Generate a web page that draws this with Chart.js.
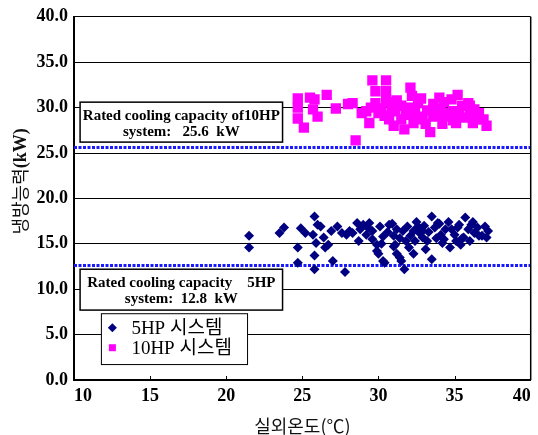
<!DOCTYPE html>
<html>
<head>
<meta charset="utf-8">
<script src="https://cdn.jsdelivr.net/npm/chart.js"></script>
<style>
  html, body { margin: 0; padding: 0; background: #fff; }
  #wrap { width: 538px; height: 435px; }
</style>
</head>
<body>
<div id="wrap"><canvas id="chart" width="538" height="435"></canvas></div>
<script>
// 실외온도(℃) vs 냉방능력(kW), 5HP / 10HP systems
const temp5HP = [21.5, 21.5, 23.5, 23.8, 24.7, 24.7, 24.9, 25.2, 25.8, 26.0, 25.7, 25.9, 25.8, 25.8,
  26.4, 26.5, 26.7, 27.0, 27.3, 27.6, 27.8, 28.1, 28.6, 29.0, 29.2, 29.6, 29.9, 30.0, 30.3, 29.9,
  30.7, 31.0, 31.1, 31.2, 31.5, 31.6, 31.7, 31.8, 30.4, 31.4, 32.3, 32.3, 32.6, 32.9, 33.5, 33.5,
  33.7, 34.1, 34.7, 34.8, 35.3, 35.7, 36.1, 36.3, 36.6, 37.1, 37.2, 34.3, 32.4, 35.6, 33.2, 33.9,
  35.1, 32.9, 28.7, 28.3,
  29.3, 29.6, 30.1, 30.3, 30.6, 30.9, 31.2, 31.4, 31.9, 32.1, 32.5, 32.7, 33.0, 33.3, 33.8, 34.0,
  34.4, 34.6, 35.0, 35.2, 35.5, 35.9, 36.2, 36.5, 36.8, 37.0, 30.2, 31.0, 32.0, 33.1, 34.2, 35.4,
  36.0, 29.4, 28.8, 27.9, 26.9, 26.2];
const cap5HP = [15.9, 14.6, 16.2, 16.8, 14.6, 12.9, 16.7, 16.2, 18.0, 17.1, 16.0, 15.1, 13.7, 12.2,
  15.7, 14.6, 14.9, 13.1, 16.9, 16.2, 11.9, 16.4, 17.3, 17.1, 16.0, 16.4, 14.9, 13.9, 13.1, 14.2,
  17.1, 15.9, 14.9, 13.9, 13.1, 16.4, 12.2, 15.3, 12.9, 13.5, 16.4, 13.9, 16.9, 15.7, 18.0, 13.3,
  16.8, 16.0, 14.6, 16.6, 17.1, 17.9, 17.1, 16.2, 15.9, 15.7, 16.4, 15.5, 15.3, 15.7, 15.3, 17.3,
  15.3, 16.4, 15.3, 16.2,
  16.8, 15.5, 16.9, 15.8, 16.3, 17.2, 16.6, 15.6, 16.9, 15.9, 17.4, 16.2, 17.0, 16.3, 15.6, 17.2,
  16.6, 17.4, 16.0, 16.8, 15.6, 16.6, 17.4, 16.8, 15.9, 16.9, 15.0, 14.7, 14.6, 14.4, 15.1, 14.9,
  15.3, 17.3, 16.6, 16.0, 16.4, 16.9];

const temp10HP = [24.7, 24.7, 24.7, 25.1, 25.5, 25.8, 25.7, 26.0, 26.6, 27.2, 28.0, 28.3, 28.9, 28.5,
  29.5, 29.4, 29.6, 29.8, 29.8, 30.0, 30.5, 30.5, 30.5, 30.4, 30.7, 30.8, 31.5, 31.5, 31.7, 32.1,
  32.2, 32.6, 32.4, 32.3, 32.9, 33.4, 33.6, 34.0, 34.1, 34.2, 34.8, 34.9, 35.1, 35.5, 35.9, 36.0,
  36.3, 36.4, 36.9, 37.1, 33.9, 34.5, 33.2, 31.1, 35.2,
  30.9, 31.2, 31.8, 32.0, 32.6, 32.8, 33.1, 33.6, 33.8, 34.3, 34.5, 34.9, 35.3, 35.6, 36.0, 36.6,
  36.2, 31.0, 30.2, 29.2];
const cap10HP = [31.0, 30.0, 28.8, 27.8, 31.1, 30.9, 29.8, 29.0, 31.4, 29.9, 30.4, 30.5, 29.4, 26.4,
  30.0, 28.3, 33.0, 31.8, 30.5, 29.4, 33.0, 31.8, 30.9, 29.1, 28.7, 30.6, 30.2, 28.7, 27.6, 32.2,
  31.3, 30.5, 29.4, 28.3, 28.7, 27.3, 30.4, 31.1, 29.8, 28.2, 30.9, 29.6, 28.3, 30.2, 30.5, 29.1,
  29.8, 28.7, 28.7, 28.0, 29.3, 29.0, 29.7, 29.7, 31.4,
  29.6, 30.8, 29.2, 30.0, 29.0, 31.0, 28.2, 29.0, 29.9, 30.6, 29.4, 28.6, 29.3, 28.9, 30.2, 29.4,
  28.3, 28.0, 29.9, 29.6];

const ratedCap = [25.6, 12.6];
const seriesNames = ["5HP 시스템", "10HP 시스템"];
const xTicks = [10, 15, 20, 25, 30, 35, 40];
const yTicks = [0, 5, 10, 15, 20, 25, 30, 35, 40];
const noteLines = [
  ["Rated cooling capacity of10HP", "system:   25.6  kW"],
  ["Rated cooling capacity    5HP", "system:  12.8  kW"]
];

// note / legend boxes in axis units: [xLeft, xRight, yTop, yBottom]
const noteBoxes = [[10.4, 23.7, 30.6, 26.2], [10.4, 23.7, 12.2, 7.7]];
const legendBox = [11.8, 21.4, 7.3, 1.7];

const serif = '"Liberation Serif", "Times New Roman", serif';
const korean = '"Noto Sans CJK KR", sans-serif';

const toPoints = (xs, ys) => xs.map((x, i) => ({ x: x, y: ys[i] }));
const flat = (v) => [{ x: xTicks[0], y: v }, { x: xTicks[xTicks.length - 1], y: v }];

const extras = {
  id: "extras",
  afterDraw(chart) {
    const { ctx, chartArea: a, scales: { x, y } } = chart;
    ctx.save();
    // right border + inner x ticks
    ctx.strokeStyle = "#000";
    ctx.lineWidth = 1.5;
    ctx.beginPath();
    ctx.moveTo(a.right, a.top);
    ctx.lineTo(a.right, a.bottom);
    ctx.stroke();
    ctx.lineWidth = 1;
    xTicks.slice(1, -1).forEach(t => {
      const px = Math.round(x.getPixelForValue(t)) + 0.5;
      ctx.beginPath();
      ctx.moveTo(px, a.bottom);
      ctx.lineTo(px, a.bottom - 4);
      ctx.stroke();
    });

    // note boxes
    noteBoxes.forEach((b, i) => {
      const l = x.getPixelForValue(b[0]), r = x.getPixelForValue(b[1]);
      const t = y.getPixelForValue(b[2]), bt = y.getPixelForValue(b[3]);
      ctx.fillStyle = "#fff";
      ctx.fillRect(l, t, r - l, bt - t);
      ctx.strokeStyle = "#000";
      ctx.lineWidth = 1.5;
      ctx.strokeRect(l, t, r - l, bt - t);
      ctx.fillStyle = "#000";
      ctx.font = "bold 15px " + serif;
      ctx.textAlign = "center";
      ctx.textBaseline = "middle";
      const cx = (l + r) / 2;
      ctx.fillText(noteLines[i][0], cx, t + 14);
      ctx.fillText(noteLines[i][1], cx, t + 30);
    });

    // legend
    const l = x.getPixelForValue(legendBox[0]), r = x.getPixelForValue(legendBox[1]);
    const t = y.getPixelForValue(legendBox[2]), bt = y.getPixelForValue(legendBox[3]);
    ctx.fillStyle = "#fff";
    ctx.fillRect(l, t, r - l, bt - t);
    ctx.strokeStyle = "#000";
    ctx.lineWidth = 1;
    ctx.strokeRect(l, t, r - l, bt - t);
    [0, 1].forEach(i => {
      const ds = chart.data.datasets[i];
      const yy = t + 14 + i * 20;
      ctx.fillStyle = ds.backgroundColor;
      ctx.beginPath();
      if (ds.pointStyle === "rectRot") {
        ctx.moveTo(l + 11, yy - 4.5);
        ctx.lineTo(l + 15.5, yy);
        ctx.lineTo(l + 11, yy + 4.5);
        ctx.lineTo(l + 6.5, yy);
        ctx.closePath();
        ctx.fill();
      } else {
        ctx.fillRect(l + 7.5, yy - 3.5, 7, 7);
      }
      ctx.fillStyle = "#000";
      ctx.font = "19px " + serif + ", " + korean;
      ctx.textAlign = "left";
      ctx.textBaseline = "middle";
      ctx.fillText(ds.label, l + 30, yy + 1);
    });

    // y axis title
    ctx.translate(20, (a.top + a.bottom) / 2 - 17);
    ctx.rotate(-Math.PI / 2);
    ctx.fillStyle = "#111";
    ctx.textBaseline = "middle";
    const kor = "냉방능력";
    const unit = "(kW)";
    ctx.font = "bold 18px " + serif;
    const wUnit = ctx.measureText(unit).width;
    ctx.font = "18px " + korean;
    const wKor = ctx.measureText(kor).width;
    const start = -(wKor + wUnit) / 2;
    ctx.textAlign = "left";
    ctx.fillText(kor, start, 0);
    ctx.font = "bold 18px " + serif;
    ctx.fillText(unit, start + wKor, 1);
    ctx.restore();
  }
};

new Chart(document.getElementById("chart"), {
  type: "scatter",
  data: {
    datasets: [
      {
        label: seriesNames[0],
        data: toPoints(temp5HP, cap5HP),
        pointStyle: "rectRot",
        pointRadius: 5,
        backgroundColor: "#000080",
        borderColor: "#000080",
        borderWidth: 0
      },
      {
        label: seriesNames[1],
        data: toPoints(temp10HP, cap10HP),
        pointStyle: "rect",
        pointRadius: 7.3,
        backgroundColor: "#ff00ff",
        borderColor: "#ff00ff",
        borderWidth: 0
      },
      {
        label: "rated 10HP",
        data: flat(ratedCap[0]),
        showLine: true,
        pointRadius: 0,
        borderColor: "#1a1aff",
        borderWidth: 3,
        borderDash: [3, 1.5]
      },
      {
        label: "rated 5HP",
        data: flat(ratedCap[1]),
        showLine: true,
        pointRadius: 0,
        borderColor: "#1a1aff",
        borderWidth: 3,
        borderDash: [3, 1.5]
      }
    ]
  },
  options: {
    responsive: false,
    animation: false,
    layout: { padding: { top: 14, right: 5, left: 0, bottom: 0 } },
    plugins: {
      legend: { display: false },
      tooltip: { enabled: false }
    },
    scales: {
      x: {
        min: 10,
        max: 40,
        afterFit: (s) => { s.height = 55; },
        afterBuildTicks: (s) => { s.ticks = xTicks.map(v => ({ value: v })); },
        grid: { display: false, drawTicks: false },
        border: { display: true, color: "#000", width: 2 },
        ticks: {
          align: "inner",
          padding: 6,
          color: "#000",
          font: { family: serif, size: 18, weight: "bold" }
        },
        title: {
          display: true,
          text: "실외온도(℃)",
          color: "#111",
          padding: { top: 0, bottom: 0 },
          font: { family: korean, size: 18, lineHeight: 1 }
        }
      },
      y: {
        min: 0,
        max: 40,
        afterFit: (s) => { s.width = 74; },
        afterBuildTicks: (s) => { s.ticks = yTicks.map(v => ({ value: v })); },
        grid: { color: "#000", lineWidth: 1, drawTicks: false },
        border: { display: true, color: "#000", width: 2 },
        ticks: {
          padding: 6,
          color: "#000",
          font: { family: serif, size: 18, weight: "bold" },
          callback: (v) => Number(v).toFixed(1)
        }
      }
    }
  },
  plugins: [extras]
});
</script>
</body>
</html>
